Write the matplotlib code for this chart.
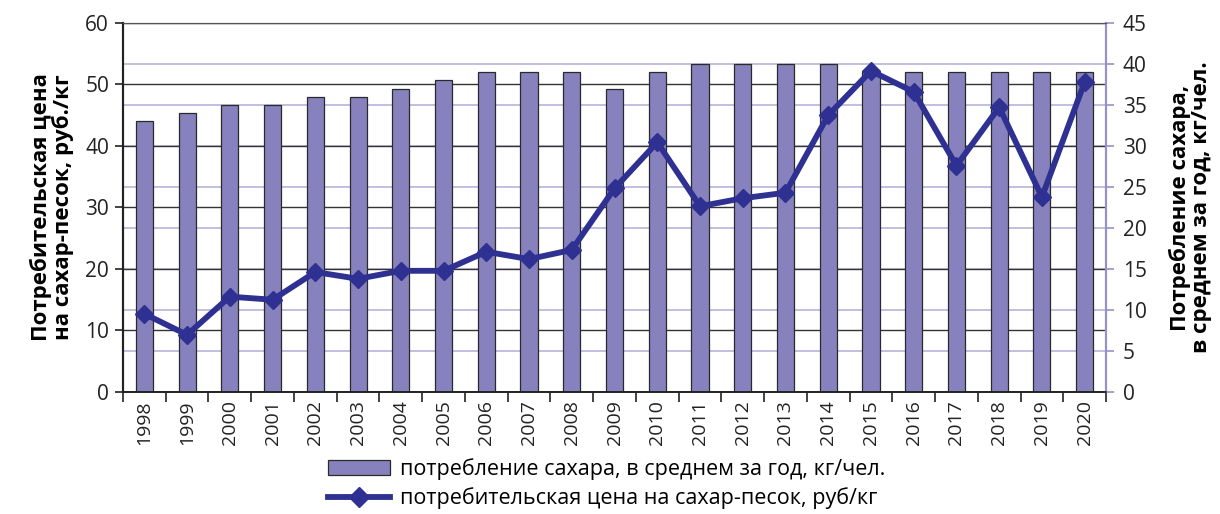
import numpy as np
import matplotlib
matplotlib.use("Agg")
import matplotlib.pyplot as plt
from matplotlib.patches import Patch
from matplotlib.lines import Line2D

plt.rcParams['font.family'] = ['Open Sans', 'DejaVu Sans']

years = [str(y) for y in range(1998, 2021)]
# sugar consumption, kg per person (right axis, bars)
consumption = [33, 34, 35, 35, 36, 36, 37, 38, 39, 39, 39, 37, 39,
               40, 40, 40, 40, 39, 39, 39, 39, 39, 39]
# retail price of sugar, rub/kg (left axis, line)
price = [12.7, 9.3, 15.5, 15.0, 19.5, 18.4, 19.7, 19.7, 22.8, 21.6, 23.1,
         33.1, 40.6, 30.2, 31.5, 32.4, 45.0, 52.2, 48.8, 36.8, 46.3, 31.7, 50.4]

left_ticks = [0, 10, 20, 30, 40, 50, 60]
right_ticks = [0, 5, 10, 15, 20, 25, 30, 35, 40, 45]

bar_color = '#8781BD'
line_color = '#2E3192'
lav = '#B7B3DA'

fig = plt.figure(figsize=(12.2, 5.14), dpi=100)
ax = fig.add_axes([0.1008, 0.2374, 0.8058, 0.7179])   # bars, right scale
ax2 = ax.twinx()                                      # line, left scale

x = np.arange(len(years))

# grid lines behind the bars
for v in right_ticks:
    ax.axhline(v, color=lav, lw=1.2, zorder=0)
for v in left_ticks:
    ax.axhline(v * right_ticks[-1] / left_ticks[-1], color='#333333', lw=1.0, zorder=0.5)

ax.bar(x, consumption, width=0.4, color=bar_color, edgecolor='#2a2a2a',
       linewidth=0.9, zorder=2)
ax2.plot(x, price, color=line_color, lw=4.2, marker='D', markersize=9.5,
         markeredgecolor=line_color, zorder=3)

ax.set_xlim(-0.5, len(years) - 0.5)
ax.set_ylim(0, 45)
ax2.set_ylim(0, 60)

# axis placement: bars scale on the right, price on the left
ax.yaxis.tick_right()
ax.yaxis.set_label_position('right')
ax2.yaxis.tick_left()
ax2.yaxis.set_label_position('left')

ax.set_yticks(right_ticks)
ax2.set_yticks(left_ticks)
ax.tick_params(axis='y', colors='#9691C9', labelcolor='#222222', labelsize=15,
               length=6, width=1.2, direction='out', pad=6)
ax2.tick_params(axis='y', colors='#222222', labelsize=15, length=6, width=1.2,
                direction='out', pad=4)

ax.set_xticks(x)
ax.set_xticklabels(years, rotation=90, fontsize=14, color='#222222')
ax.set_xticks(np.arange(-0.5, len(years)), minor=True)
ax.tick_params(axis='x', which='major', length=0, pad=6)
ax.tick_params(axis='x', which='minor', length=7, width=1.2, color='#222222')

for a in (ax, ax2):
    a.spines['top'].set_color('#555555')
    a.spines['left'].set_color('#222222')
    a.spines['left'].set_linewidth(1.5)
    a.spines['right'].set_color('#9691C9')
    a.spines['right'].set_linewidth(1.5)
    a.spines['bottom'].set_color('#222222')
    a.spines['bottom'].set_linewidth(1.2)

ax2.set_ylabel('Потребительская цена\nна сахар-песок, руб./кг', fontsize=16,
               fontweight='bold', labelpad=8, linespacing=1.0)
ax.set_ylabel('Потребление сахара,\nв среднем за год, кг/чел.', fontsize=16,
              fontweight='bold', labelpad=16, linespacing=1.0)

handles = [Patch(facecolor=bar_color, edgecolor='#2a2a2a', linewidth=0.9),
           Line2D([0], [0], color=line_color, lw=4.2, marker='D', markersize=10)]
labels = ['потребление сахара, в среднем за год, кг/чел.',
          'потребительская цена на сахар-песок, руб/кг']
fig.legend(handles, labels, loc='upper center', bbox_to_anchor=(0.497, 0.13),
           ncol=1, frameon=False, fontsize=15.5, handlelength=2.9,
           handletextpad=0.45, labelspacing=0.35, borderpad=0)

fig.savefig('out.png', dpi=100)
